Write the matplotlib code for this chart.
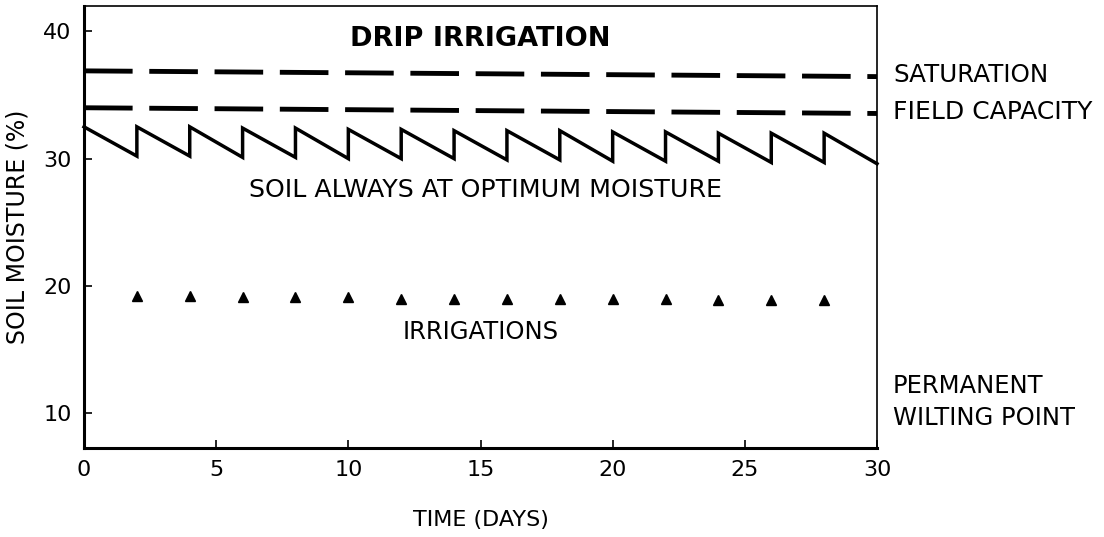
import matplotlib
matplotlib.use("Agg")
import matplotlib.pyplot as plt
import numpy as np

# ---- data ----
irrigation_days = [2, 4, 6, 8, 10, 12, 14, 16, 18, 20, 22, 24, 26, 28]
irrigation_marker_y = [19.2, 19.2, 19.1, 19.1, 19.1, 19.0, 19.0, 19.0, 19.0, 19.0, 19.0, 18.9, 18.9, 18.9]
peak_days = [0, 2, 4, 6, 8, 10, 12, 14, 16, 18, 20, 22, 24, 26, 28]
peak_values = [32.5, 32.5, 32.5, 32.4, 32.4, 32.3, 32.3, 32.2, 32.2, 32.2, 32.1, 32.1, 32.0, 32.0, 32.0]
trough_days = [2, 4, 6, 8, 10, 12, 14, 16, 18, 20, 22, 24, 26, 28, 30]
trough_values = [30.2, 30.2, 30.1, 30.1, 30.0, 30.0, 30.0, 29.9, 29.9, 29.8, 29.8, 29.8, 29.7, 29.7, 29.6]
saturation_days = [0, 30]
saturation_values = [36.9, 36.45]
field_capacity_days = [0, 30]
field_capacity_values = [34.0, 33.55]
x_ticks = [0, 5, 10, 15, 20, 25, 30]
y_ticks = [10, 20, 30, 40]

plt.rcParams['font.family'] = ['DejaVu Sans']
plt.rcParams['lines.scale_dashes'] = False

fig = plt.figure(figsize=(11.04, 5.37), dpi=100)
ax = fig.add_axes([84/1104, 1-448/537, (877-84)/1104, (448-6)/537])
ax.set_xlim(0, 30)
ax.set_ylim(7.25, 42.0)

# sawtooth
sx, sy = [], []
for pd, pv, td, tv in zip(peak_days, peak_values, trough_days, trough_values):
    sx += [pd, td]
    sy += [pv, tv]
ax.plot(sx, sy, color='black', lw=2.5, solid_joinstyle='miter', clip_on=False)

# dashed lines (dash pattern in points, unscaled)
for d, v in [(saturation_days, saturation_values), (field_capacity_days, field_capacity_values)]:
    ax.plot(d, v, color='black', lw=3.5, linestyle=(0, (35, 12)), dash_capstyle='butt')

# irrigation markers
ax.plot(irrigation_days, irrigation_marker_y, linestyle='none', marker='^',
        color='black', markersize=7)

# spines
for s in ['left', 'bottom']:
    ax.spines[s].set_linewidth(2.2)
for s in ['top', 'right']:
    ax.spines[s].set_linewidth(1.2)

ax.set_xticks(x_ticks)
ax.set_yticks(y_ticks)
ax.tick_params(direction='in', length=6, width=1.2, labelsize=16)
ax.tick_params(axis='y', pad=9)
ax.tick_params(axis='x', pad=9)
ax.set_xlabel('TIME (DAYS)', fontsize=16, labelpad=21)
ax.set_ylabel('SOIL MOISTURE (%)', fontsize=17, labelpad=10)

ax.text(15.0, 39.4, 'DRIP IRRIGATION', fontsize=19.5, fontweight='bold', ha='center', va='center')
ax.text(15.2, 27.5, 'SOIL ALWAYS AT OPTIMUM MOISTURE', fontsize=18.2, ha='center', va='center')
ax.text(15.0, 16.4, 'IRRIGATIONS', fontsize=17.5, ha='center', va='center')

fig.text(893/1104, 1-75/537, 'SATURATION', fontsize=17.7, ha='left', va='center')
fig.text(893/1104, 1-112/537, 'FIELD CAPACITY', fontsize=18, ha='left', va='center')
fig.text(893/1104, 1-386/537, 'PERMANENT', fontsize=17.5, ha='left', va='center')
fig.text(893/1104, 1-418/537, 'WILTING POINT', fontsize=17.5, ha='left', va='center')

fig.savefig('out.png', dpi=100)
